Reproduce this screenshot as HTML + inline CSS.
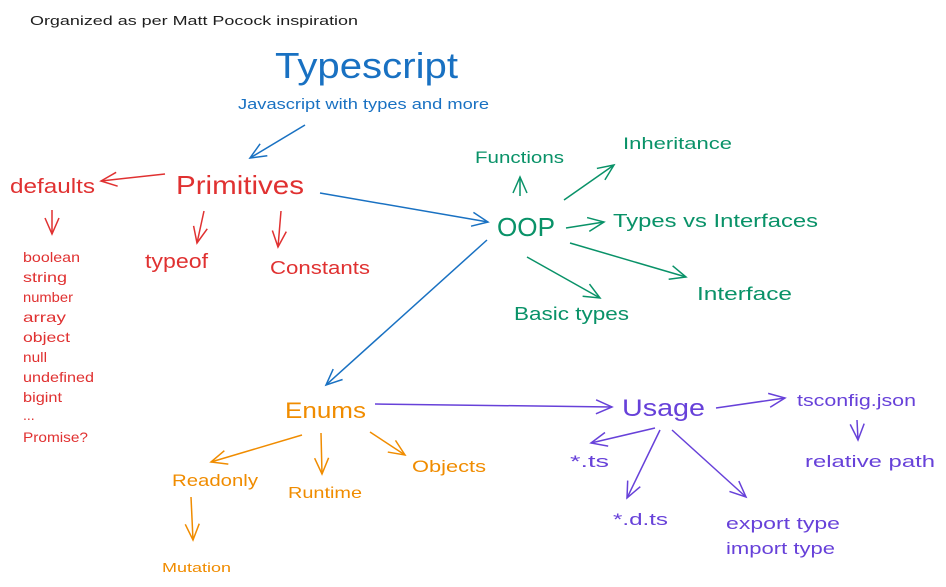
<!DOCTYPE html>
<html><head><meta charset="utf-8"><style>
html,body{margin:0;padding:0;background:#fff;width:946px;height:587px;overflow:hidden}
svg{display:block}
text{font-family:"Liberation Sans",sans-serif}
</style></head><body>
<svg width="946" height="587" viewBox="0 0 946 587" xmlns="http://www.w3.org/2000/svg">
<defs>
<marker id="b" markerWidth="20" markerHeight="20" refX="18" refY="8" orient="auto" markerUnits="userSpaceOnUse"><path d="M2,1 L18,8 L2,15" fill="none" stroke="#1971c2" stroke-width="1.5"/></marker>
<marker id="r" markerWidth="20" markerHeight="20" refX="18" refY="8" orient="auto" markerUnits="userSpaceOnUse"><path d="M2,1 L18,8 L2,15" fill="none" stroke="#e03131" stroke-width="1.5"/></marker>
<marker id="g" markerWidth="20" markerHeight="20" refX="18" refY="8" orient="auto" markerUnits="userSpaceOnUse"><path d="M2,1 L18,8 L2,15" fill="none" stroke="#099268" stroke-width="1.5"/></marker>
<marker id="o" markerWidth="20" markerHeight="20" refX="18" refY="8" orient="auto" markerUnits="userSpaceOnUse"><path d="M2,1 L18,8 L2,15" fill="none" stroke="#f08c00" stroke-width="1.5"/></marker>
<marker id="p" markerWidth="20" markerHeight="20" refX="18" refY="8" orient="auto" markerUnits="userSpaceOnUse"><path d="M2,1 L18,8 L2,15" fill="none" stroke="#6741d9" stroke-width="1.5"/></marker>
</defs>
<text x="30" y="25" font-size="13" fill="#1e1e1e" textLength="328" lengthAdjust="spacingAndGlyphs">Organized as per Matt Pocock inspiration</text>
<g fill="#1971c2">
<text x="275" y="78" font-size="36" textLength="183" lengthAdjust="spacingAndGlyphs">Typescript</text>
<text x="238" y="109" font-size="15" textLength="251" lengthAdjust="spacingAndGlyphs">Javascript with types and more</text>
</g>
<g stroke="#1971c2" stroke-width="1.5" fill="none">
<line x1="305" y1="125" x2="250" y2="158" marker-end="url(#b)"/>
<line x1="320" y1="193" x2="488" y2="222" marker-end="url(#b)"/>
<line x1="487" y1="240" x2="326" y2="385" marker-end="url(#b)"/>
</g>
<g fill="#e03131">
<text x="10" y="193" font-size="20" textLength="85" lengthAdjust="spacingAndGlyphs">defaults</text>
<text x="176" y="194" font-size="26" textLength="128" lengthAdjust="spacingAndGlyphs">Primitives</text>
<text x="145" y="268" font-size="20" textLength="63" lengthAdjust="spacingAndGlyphs">typeof</text>
<text x="270" y="274" font-size="18" textLength="100" lengthAdjust="spacingAndGlyphs">Constants</text>
<g font-size="14" lengthAdjust="spacingAndGlyphs">
<text x="23" y="262" textLength="57" lengthAdjust="spacingAndGlyphs">boolean</text>
<text x="23" y="282" textLength="44" lengthAdjust="spacingAndGlyphs">string</text>
<text x="23" y="302" textLength="50" lengthAdjust="spacingAndGlyphs">number</text>
<text x="23" y="322" textLength="43" lengthAdjust="spacingAndGlyphs">array</text>
<text x="23" y="342" textLength="47" lengthAdjust="spacingAndGlyphs">object</text>
<text x="23" y="362" textLength="24" lengthAdjust="spacingAndGlyphs">null</text>
<text x="23" y="382" textLength="71" lengthAdjust="spacingAndGlyphs">undefined</text>
<text x="23" y="402" textLength="39" lengthAdjust="spacingAndGlyphs">bigint</text>
<text x="23" y="420">...</text>
<text x="23" y="442" textLength="65" lengthAdjust="spacingAndGlyphs">Promise?</text>
</g>
</g>
<g stroke="#e03131" stroke-width="1.5" fill="none">
<line x1="165" y1="174" x2="101" y2="181" marker-end="url(#r)"/>
<line x1="52" y1="210" x2="52" y2="234" marker-end="url(#r)"/>
<line x1="204" y1="211" x2="197" y2="243" marker-end="url(#r)"/>
<line x1="281" y1="211" x2="278" y2="247" marker-end="url(#r)"/>
</g>
<g fill="#099268">
<text x="497" y="236" font-size="26" textLength="58" lengthAdjust="spacingAndGlyphs">OOP</text>
<text x="475" y="163" font-size="17" textLength="89" lengthAdjust="spacingAndGlyphs">Functions</text>
<text x="623" y="149" font-size="17" textLength="109" lengthAdjust="spacingAndGlyphs">Inheritance</text>
<text x="613" y="227" font-size="18" textLength="205" lengthAdjust="spacingAndGlyphs">Types vs Interfaces</text>
<text x="697" y="300" font-size="18" textLength="95" lengthAdjust="spacingAndGlyphs">Interface</text>
<text x="514" y="320" font-size="18" textLength="115" lengthAdjust="spacingAndGlyphs">Basic types</text>
</g>
<g stroke="#099268" stroke-width="1.5" fill="none">
<line x1="520" y1="196" x2="520" y2="177" marker-end="url(#g)"/>
<line x1="564" y1="200" x2="614" y2="165" marker-end="url(#g)"/>
<line x1="566" y1="228" x2="604" y2="222" marker-end="url(#g)"/>
<line x1="570" y1="243" x2="686" y2="277" marker-end="url(#g)"/>
<line x1="527" y1="257" x2="600" y2="298" marker-end="url(#g)"/>
</g>
<g fill="#f08c00">
<text x="285" y="418" font-size="22" textLength="81" lengthAdjust="spacingAndGlyphs">Enums</text>
<text x="172" y="486" font-size="17" textLength="86" lengthAdjust="spacingAndGlyphs">Readonly</text>
<text x="288" y="498" font-size="16" textLength="74" lengthAdjust="spacingAndGlyphs">Runtime</text>
<text x="412" y="472" font-size="17" textLength="74" lengthAdjust="spacingAndGlyphs">Objects</text>
<text x="162" y="572" font-size="13" textLength="69" lengthAdjust="spacingAndGlyphs">Mutation</text>
</g>
<g stroke="#f08c00" stroke-width="1.5" fill="none">
<line x1="302" y1="435" x2="211" y2="462" marker-end="url(#o)"/>
<line x1="321" y1="433" x2="322" y2="474" marker-end="url(#o)"/>
<line x1="370" y1="432" x2="405" y2="455" marker-end="url(#o)"/>
<line x1="191" y1="497" x2="193" y2="540" marker-end="url(#o)"/>
</g>
<g fill="#6741d9">
<text x="622" y="416" font-size="24" textLength="83" lengthAdjust="spacingAndGlyphs">Usage</text>
<text x="797" y="406" font-size="17" textLength="119" lengthAdjust="spacingAndGlyphs">tsconfig.json</text>
<text x="805" y="467" font-size="17" textLength="130" lengthAdjust="spacingAndGlyphs">relative path</text>
<text x="570" y="467" font-size="17" textLength="39" lengthAdjust="spacingAndGlyphs">*.ts</text>
<text x="613" y="525" font-size="17" textLength="55" lengthAdjust="spacingAndGlyphs">*.d.ts</text>
<text x="726" y="529" font-size="17" textLength="114" lengthAdjust="spacingAndGlyphs">export type</text>
<text x="726" y="554" font-size="17" textLength="109" lengthAdjust="spacingAndGlyphs">import type</text>
</g>
<g stroke="#6741d9" stroke-width="1.5" fill="none">
<line x1="375" y1="404" x2="612" y2="407" marker-end="url(#p)"/>
<line x1="716" y1="408" x2="785" y2="398" marker-end="url(#p)"/>
<line x1="857" y1="420" x2="858" y2="440" marker-end="url(#p)"/>
<line x1="655" y1="428" x2="591" y2="443" marker-end="url(#p)"/>
<line x1="660" y1="430" x2="627" y2="498" marker-end="url(#p)"/>
<line x1="672" y1="430" x2="746" y2="497" marker-end="url(#p)"/>
</g>
</svg>
</body></html>
